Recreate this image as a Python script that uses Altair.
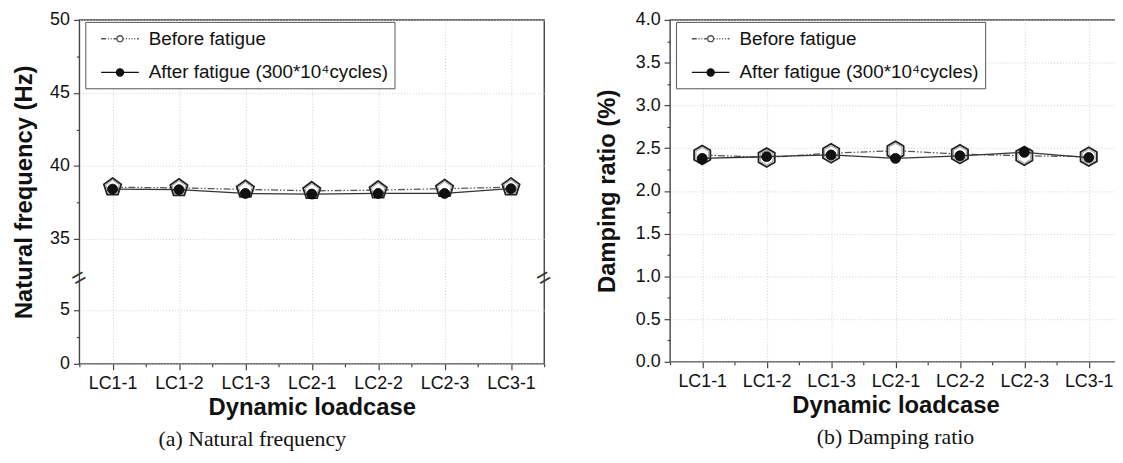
import json
import altair as alt
import pandas as pd

# ---------------- data ----------------
categories = ["LC1-1", "LC1-2", "LC1-3", "LC2-1", "LC2-2", "LC2-3", "LC3-1"]
series_names = ["Before fatigue", "After fatigue (300*10⁴cycles)"]

freq_before = [38.55, 38.50, 38.40, 38.30, 38.35, 38.45, 38.55]
freq_after = [38.42, 38.38, 38.12, 38.08, 38.12, 38.12, 38.45]
damp_before = [2.42, 2.39, 2.44, 2.47, 2.43, 2.41, 2.40]
damp_after = [2.38, 2.40, 2.42, 2.38, 2.41, 2.45, 2.39]

freq_ticks = [0, 2.5, 5, 35, 37.5, 40, 42.5, 45, 47.5, 50]
damp_ticks = [i * 0.25 for i in range(17)]
x_ticks = [i * 0.5 - 0.5 for i in range(15)]
x_domain = [-0.5, 6.5]

# broken y axis of panel (a): lower segment 0..LOW_TOP, upper UP_BOT..50
LOW_TOP = 7.9
UP_BOT = 32.3
K = 1.353          # upper segment drawn K times denser than the lower one
FREQ_MAX = 50


def brk(v):
    return v if v <= LOW_TOP else LOW_TOP + (v - UP_BOT) * K


def long(before, after):
    rows = []
    for i, c in enumerate(categories):
        rows.append({"idx": i, "cat": c, "series": series_names[0], "value": before[i]})
        rows.append({"idx": i, "cat": c, "series": series_names[1], "value": after[i]})
    return pd.DataFrame(rows)


FONT = "Liberation Sans"
GRID = "#cfcfcf"

# legend symbols: line + marker drawn as custom paths
circ_b = "M-0.3,0A0.3,0.3 0 1,0 0.3,0A0.3,0.3 0 1,0 -0.3,0"
path_before = ("M-1.9,0H-1.4M-1.22,0H-1.12M-0.94,0H-0.84M-0.66,0H-0.3"
               "M0.3,0H0.42M0.6,0H0.7M0.88,0H0.98M1.16,0H1.26M1.44,0H1.54M1.72,0H1.9" + circ_b)
path_after = "M-1.9,0H1.9M-0.36,0A0.36,0.36 0 1,0 0.36,0A0.36,0.36 0 1,0 -0.36,0"

pentagon = "M0,-1L0.951,-0.309L0.588,0.809L-0.588,0.809L-0.951,-0.309Z"
hexagon = "M0,-1L0.866,-0.5L0.866,0.5L0,1L-0.866,0.5L-0.866,-0.5Z"

x_minor = "datum.value % 1 != 0"
x_axis = alt.Axis(
    values=x_ticks,
    labelExpr=f"datum.value % 1 == 0 ? {json.dumps(categories)}[datum.value] : ''",
    tickSize={"condition": {"test": x_minor, "value": 3}, "value": 6},
    gridOpacity={"condition": {"test": x_minor, "value": 0}, "value": 1},
    labelOverlap=False, labelFlush=False, labelPadding=5,
    title="Dynamic loadcase", titlePadding=3,
)
X = alt.X("idx:Q", scale=alt.Scale(domain=x_domain, nice=False, zero=False), axis=x_axis)


def build(df, Y, marker, msize, caption, cap_dx, width, height, extra=None, calc=None):
    base = alt.Chart(df)
    if calc:
        base = base.transform_calculate(**calc)
    bef = base.transform_filter(alt.datum.series == series_names[0])
    aft = base.transform_filter(alt.datum.series == series_names[1])
    l1 = bef.mark_line(color="#555", strokeWidth=1.3, strokeDash=[7, 2, 1.5, 2, 1.5, 2]).encode(x=X, y=Y)
    p1 = bef.mark_point(shape=marker, size=msize, filled=True, fill="white", stroke="#222",
                        strokeWidth=1.8, opacity=1).encode(x=X, y=Y)
    p1b = bef.mark_point(shape=marker, size=msize * 0.62, filled=False, stroke="#999",
                         strokeWidth=1.0, opacity=1).encode(x=X, y=Y)
    l2 = aft.mark_line(color="#333", strokeWidth=1.3).encode(x=X, y=Y)
    p2 = aft.mark_point(shape="circle", size=100, filled=True, fill="#111", stroke="#000",
                        strokeWidth=0.8, opacity=1).encode(x=X, y=Y)
    leg = base.transform_filter("false").mark_point(filled=True, opacity=1, strokeWidth=1.3).encode(
        shape=alt.Shape("series:N", scale=alt.Scale(domain=series_names, range=[path_before, path_after]),
                        legend=alt.Legend(title=None)),
        fill=alt.Fill("series:N", scale=alt.Scale(domain=series_names, range=["white", "#111"]),
                      legend=alt.Legend(title=None)),
        stroke=alt.Stroke("series:N", scale=alt.Scale(domain=series_names, range=["#555", "#111"]),
                          legend=alt.Legend(title=None)),
    )
    layers = [l1, p1, p1b, l2, p2, leg]
    if extra is not None:
        layers.append(extra)
    return alt.layer(*layers).properties(
        width=width, height=height,
        title=alt.Title(caption, orient="bottom", anchor="middle", dx=cap_dx, offset=10,
                        font="Liberation Serif", fontSize=22, fontWeight="normal", color="#111"),
    )


# ---------- panel (a) natural frequency (broken axis) ----------
inv = f"(datum.value <= {LOW_TOP} ? datum.value : (datum.value - {LOW_TOP}) / {K} + {UP_BOT})"
f_minor = f"round({inv} * 10) % 50 != 0"
freq_axis = alt.Axis(
    values=[brk(v) for v in freq_ticks],
    labelExpr=f"round({inv} * 10) % 50 == 0 ? format(round({inv}), 'd') : ''",
    tickSize={"condition": {"test": f_minor, "value": 3}, "value": 6},
    gridOpacity={"condition": {"test": f_minor, "value": 0}, "value": 1},
    labelOverlap=False, labelPadding=4,
    title="Natural frequency (Hz)", titlePadding=13,
)
Yf = alt.Y("t:Q", scale=alt.Scale(domain=[0, brk(FREQ_MAX)], nice=False, zero=False), axis=freq_axis)

break_df = pd.DataFrame({"idx": x_domain, "t": [LOW_TOP, LOW_TOP]})
breaks = alt.Chart(break_df).mark_text(text="=", angle=330, fontSize=24, color="#333").encode(x=X, y=Yf)

calc = {"t": f"datum.value <= {LOW_TOP} ? datum.value : {LOW_TOP} + (datum.value - {UP_BOT}) * {K}"}
left = build(long(freq_before, freq_after), Yf, pentagon, 340, "(a) Natural frequency", -60,
             469, 347, extra=breaks, calc=calc)

# ---------- panel (b) damping ratio ----------
d_minor = "datum.value % 0.5 != 0"
damp_axis = alt.Axis(
    values=damp_ticks,
    labelExpr=f"{d_minor} ? '' : format(datum.value, '.1f')",
    tickSize={"condition": {"test": d_minor, "value": 3}, "value": 6},
    gridOpacity={"condition": {"test": d_minor, "value": 0}, "value": 1},
    labelOverlap=False, labelPadding=4,
    title="Damping ratio (%)", titlePadding=16,
)
Yd = alt.Y("value:Q", scale=alt.Scale(domain=[0, 4], nice=False, zero=False), axis=damp_axis)
right = build(long(damp_before, damp_after), Yd, hexagon, 360, "(b) Damping ratio", 0, 455, 345)

chart = alt.hconcat(left, right, spacing=38).resolve_scale(
    shape="independent", fill="independent", stroke="independent"
).resolve_legend(
    shape="independent", fill="independent", stroke="independent"
).properties(
    padding={"left": 4, "top": 0, "right": -8, "bottom": 0}
).configure_view(
    stroke="#444", strokeWidth=1.4
).configure_axis(
    labelFont=FONT, labelFontSize=18, labelColor="#111",
    titleFont=FONT, titleFontSize=24, titleFontWeight="bold", titleColor="#111",
    tickColor="#444", tickWidth=1.2, domain=False,
    gridColor=GRID, gridDash=[1, 2], gridWidth=1,
).configure_legend(
    orient="none", legendX=6, legendY=2, padding=6,
    strokeColor="#555", fillColor="white",
    labelFont=FONT, labelFontSize=19, labelColor="#111", labelLimit=0,
    symbolSize=400, symbolStrokeWidth=1.3, symbolOffset=18, labelOffset=18, rowPadding=13,
)

chart.save("out.html", embed_options={"renderer": "svg", "actions": False})
